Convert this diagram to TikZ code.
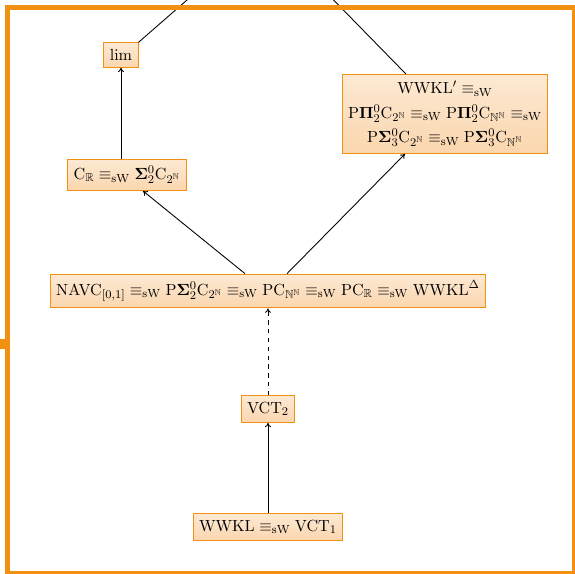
\documentclass[tikz,border=0pt]{standalone}
\usepackage{amsmath,amssymb}
\usetikzlibrary{arrows.meta,calc}
\definecolor{frameor}{HTML}{F29111}
\definecolor{boxtop}{HTML}{FDE9D3}
\definecolor{boxbot}{HTML}{FAD6AE}
\newcommand{\sweq}{\mathrel{\equiv_{\mathrm{sW}}}}
\tikzset{
  thmbox/.style={draw=frameor, line width=0.6pt, top color=boxtop, bottom color=boxbot,
    inner xsep=4pt, inner ysep=4.5pt, align=center, font=\fontsize{11.3}{16.5}\selectfont},
  conn/.style={line width=0.6pt, -{To[length=3pt,width=4pt]}},
  plain/.style={line width=0.6pt},
}
\begin{document}
\begin{tikzpicture}[x=0.68pt,y=-0.68pt]
\useasboundingbox (0,0) rectangle (575,574);
\clip (0,0) rectangle (575,574);
\node[thmbox] (lim) at (121,55) {$\lim$};
\node[thmbox] (wwklp) at (445,114) {$\mathrm{WWKL}'\sweq$\\
  $\mathrm{P}\mathbf{\Pi}^0_2\mathrm{C}_{2^\mathbb{N}}\sweq\mathrm{P}\mathbf{\Pi}^0_2\mathrm{C}_{\mathbb{N}^\mathbb{N}}\sweq$\\
  $\mathrm{P}\mathbf{\Sigma}^0_3\mathrm{C}_{2^\mathbb{N}}\sweq\mathrm{P}\mathbf{\Sigma}^0_3\mathrm{C}_{\mathbb{N}^\mathbb{N}}$};
\node[thmbox] (cr) at (127,175) {$\mathrm{C}_\mathbb{R}\sweq\mathbf{\Sigma}^0_2\mathrm{C}_{2^\mathbb{N}}$};
\node[thmbox] (navc) at (268,291) {$\mathrm{NAVC}_{[0,1]}\sweq\mathrm{P}\mathbf{\Sigma}^0_2\mathrm{C}_{2^\mathbb{N}}\sweq\mathrm{PC}_{\mathbb{N}^\mathbb{N}}\sweq\mathrm{PC}_\mathbb{R}\sweq\mathrm{WWKL}^\Delta$};
\node[thmbox] (vct) at (268,409) {$\mathrm{VCT}_2$};
\node[thmbox] (wwkl) at (268,527) {$\mathrm{WWKL}\sweq\mathrm{VCT}_1$};
\coordinate (top) at (266,-69);
\draw[conn] (wwkl) -- (vct);
\draw[conn,dashed] (vct) -- (navc);
\draw[conn] ($(navc.north)+(-23,0)$) -- ($(cr.south)+(16,0)$);
\draw[conn] ($(navc.north)+(19,0)$) -- ($(wwklp.south)+(-40,0)$);
\draw[conn] (cr.north -| lim.south) -- (lim.south);
\draw[plain] (lim.north east) -- (top);
\draw[plain] ($(wwklp.north)+(-39,0)$) -- (top);
\draw[frameor, line width=3.4pt] (7.5,7.5) rectangle (574,573);
\fill[frameor] (0,339) rectangle (6,349);
\end{tikzpicture}
\end{document}
